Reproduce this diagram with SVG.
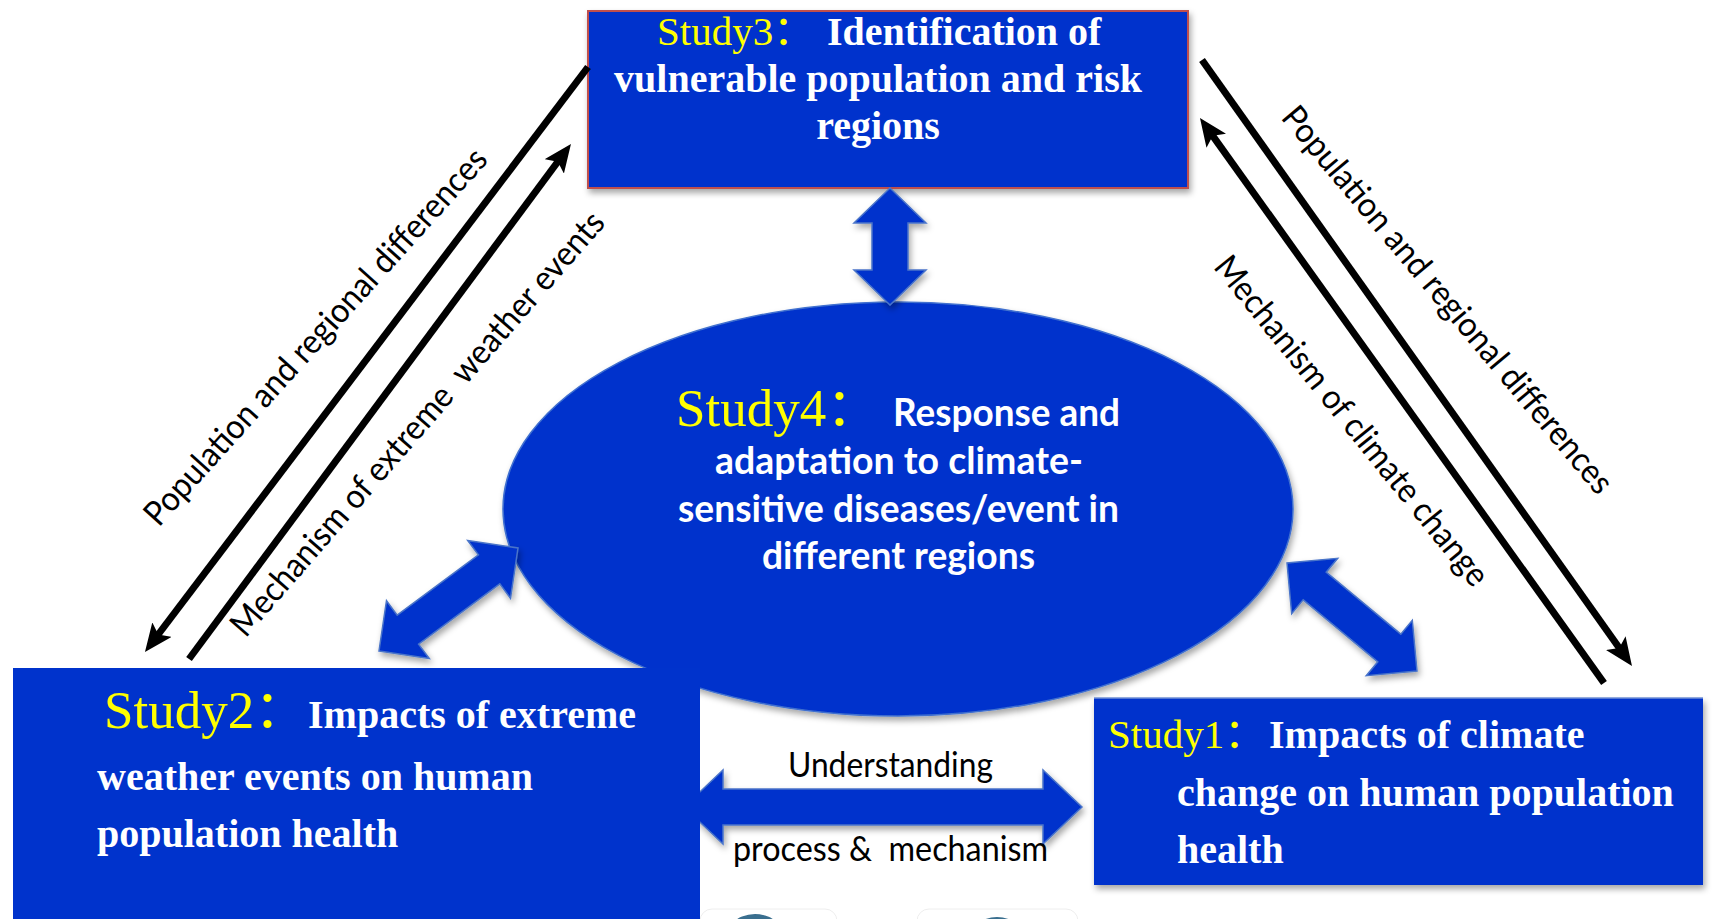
<svg xmlns="http://www.w3.org/2000/svg" width="1714" height="919" viewBox="0 0 1714 919">
  <defs>
    <filter id="shadow" x="-10%" y="-10%" width="130%" height="140%">
      <feDropShadow dx="2" dy="4" stdDeviation="3" flood-color="#000" flood-opacity="0.35"/>
    </filter>
    <marker id="head" viewBox="-28 -12 28 24" refX="-10" refY="0" markerWidth="28" markerHeight="24" markerUnits="userSpaceOnUse" orient="auto">
      <path d="M0,0 L-28,-12 L-22,0 L-28,12 Z" fill="#000"/>
    </marker>
    <clipPath id="rightOfStudy2">
      <rect x="700" y="0" width="1014" height="919"/>
    </clipPath>
    <style>
      .box{fill:#0033CC}
      .study{font-family:"Liberation Serif","Noto Sans CJK SC",serif;fill:#FFFF00}
      .title{font-family:"Liberation Serif","Times New Roman",serif;font-weight:bold;font-size:40px;fill:#FFFFFF}
      .body4{font-family:Lato,"Open Sans",sans-serif;font-weight:bold;font-size:38px;fill:#FFFFFF}
      .lbl{font-family:Lato,"Open Sans",sans-serif;font-size:34px;fill:#000000}
      .blk{stroke:#000;stroke-width:7;fill:none}
      .barrow{fill:#0033CC;stroke:#4A74C9;stroke-width:1.5}
    </style>
  </defs>

  <rect x="0" y="0" width="1714" height="919" fill="#FFFFFF"/>

  <!-- partly visible items along the lower edge -->
  <g id="lower-edge">
    <rect x="700" y="909" width="137" height="40" rx="12" fill="#FFFFFF" stroke="#EEEEEE"/>
    <circle cx="755" cy="948" r="34" fill="#3A6F8F"/>
    <rect x="917" y="909" width="161" height="40" rx="12" fill="#FFFFFF" stroke="#EEEEEE"/>
    <circle cx="997" cy="950" r="33" fill="#3A6F8F"/>
  </g>

  <!-- Study 3 -->
  <g id="study3">
    <rect class="box" x="588" y="11" width="600" height="177" stroke="#C0504D" stroke-width="2" filter="url(#shadow)"/>
    <text class="study" x="657" y="45" font-size="41">Study3：</text>
    <text class="title" x="827" y="45">Identification of</text>
    <text class="title" x="878" y="92" text-anchor="middle">vulnerable population and risk</text>
    <text class="title" x="878" y="139" text-anchor="middle">regions</text>
  </g>

  <!-- Study 4 -->
  <g id="study4">
    <ellipse cx="898" cy="509" rx="395" ry="207" fill="#0033CC" stroke="#3F6FCF" stroke-width="1.5" filter="url(#shadow)"/>
    <text class="study" x="676" y="426" font-size="53">Study4：</text>
    <text class="body4" x="893" y="426" textLength="227" lengthAdjust="spacingAndGlyphs">Response and</text>
    <text class="body4" x="715" y="474" textLength="368" lengthAdjust="spacingAndGlyphs">adaptation to climate-</text>
    <text class="body4" x="678" y="522" textLength="441" lengthAdjust="spacingAndGlyphs">sensitive diseases/event in</text>
    <text class="body4" x="762" y="569" textLength="273" lengthAdjust="spacingAndGlyphs">different regions</text>
  </g>

  <!-- Study 2 -->
  <g id="study2">
    <rect class="box" x="13" y="668" width="687" height="260"/>
    <text class="study" x="104" y="728" font-size="53">Study2：</text>
    <text class="title" x="308" y="728">Impacts of extreme</text>
    <text class="title" x="97" y="790">weather events on human</text>
    <text class="title" x="97" y="847">population health</text>
  </g>

  <!-- Study 1 -->
  <g id="study1">
    <rect class="box" x="1094" y="698" width="609" height="187" filter="url(#shadow)"/>
    <line x1="1094" y1="698" x2="1703" y2="698" stroke="#6F8FD6" stroke-width="1.5"/>
    <text class="study" x="1108" y="748" font-size="41">Study1：</text>
    <text class="title" x="1269" y="748">Impacts of climate</text>
    <text class="title" x="1177" y="806">change on human population</text>
    <text class="title" x="1177" y="863">health</text>
  </g>

  <!-- connectors -->
  <g id="connectors">
    <!-- block double arrows -->
    <polygon class="barrow" filter="url(#shadow)" points="890,188 926,223 908,223 908,270 926,270 890,305 854,270 872,270 872,223 854,223"/>
    <polygon class="barrow" filter="url(#shadow)" points="379,651 429.3,658.5 418.6,644.1 499.8,583.9 510.5,598.3 518,548 467.7,540.5 478.4,554.9 397.2,615.1 386.5,600.7"/>
    <polygon class="barrow" filter="url(#shadow)" points="1287,563 1291.7,613.7 1303.2,599.8 1377.8,661.8 1366.3,675.7 1417,671 1412.3,620.3 1400.8,634.2 1326.2,572.2 1337.7,558.3"/>
    <g clip-path="url(#rightOfStudy2)">
      <polygon class="barrow" filter="url(#shadow)" points="684,807 723,770 723,789 1043,789 1043,770 1082,807 1043,844 1043,825 723,825 723,844"/>
    </g>
    <text class="lbl" x="788" y="777" textLength="205" lengthAdjust="spacingAndGlyphs">Understanding</text>
    <text class="lbl" x="733" y="861" textLength="315" lengthAdjust="spacingAndGlyphs" xml:space="preserve">process &amp;  mechanism</text>

    <!-- black single arrows -->
    <line class="blk" x1="588" y1="67" x2="151" y2="644" marker-end="url(#head)"/>
    <line class="blk" x1="189" y1="659" x2="565" y2="152" marker-end="url(#head)"/>
    <line class="blk" x1="1202" y1="60" x2="1626.2" y2="657.8" marker-end="url(#head)"/>
    <line class="blk" x1="1604" y1="683" x2="1205.8" y2="126.1" marker-end="url(#head)"/>

    <g transform="translate(318,339) rotate(-48)">
      <text class="lbl" x="0" y="8" text-anchor="middle" textLength="494" lengthAdjust="spacingAndGlyphs">Population and regional differences</text>
    </g>
    <g transform="translate(420,426) rotate(-49)">
      <text class="lbl" x="0" y="8" text-anchor="middle" textLength="550" lengthAdjust="spacingAndGlyphs" xml:space="preserve">Mechanism of extreme  weather events</text>
    </g>
    <g transform="translate(1445,302) rotate(50)">
      <text class="lbl" x="0" y="8" text-anchor="middle" textLength="494" lengthAdjust="spacingAndGlyphs">Population and regional differences</text>
    </g>
    <g transform="translate(1349,423) rotate(51)">
      <text class="lbl" x="0" y="8" text-anchor="middle" textLength="414" lengthAdjust="spacingAndGlyphs">Mechanism of climate change</text>
    </g>
  </g>
</svg>
